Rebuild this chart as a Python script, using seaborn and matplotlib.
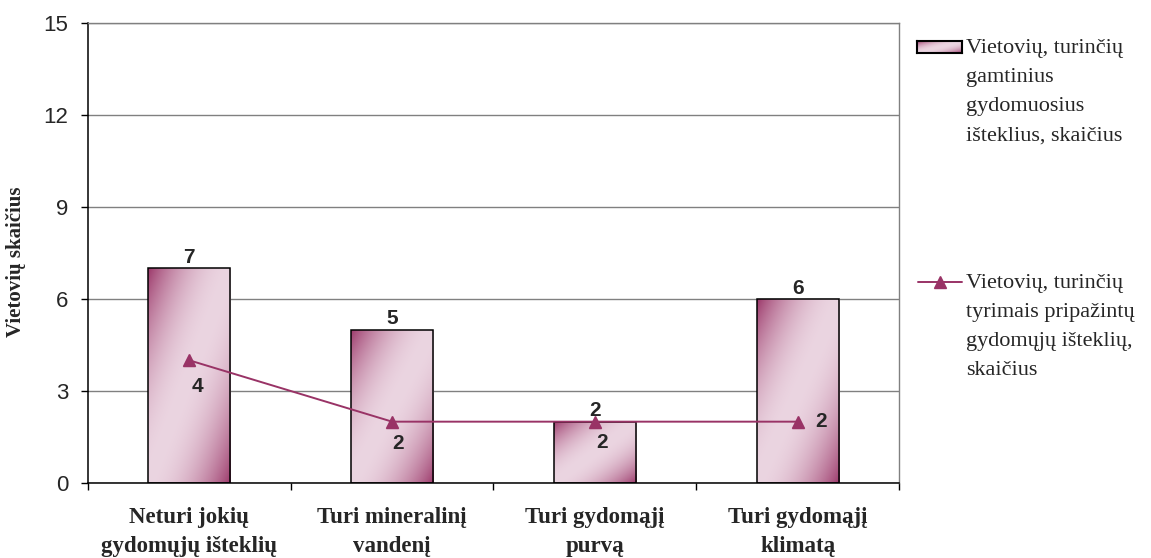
import numpy as np
import matplotlib
matplotlib.use("Agg")
import matplotlib.pyplot as plt
import seaborn as sns
from matplotlib.lines import Line2D

# ------------------ Data ------------------
categories = ["Neturi jokių\ngydomųjų išteklių", "Turi mineralinį\nvandenį",
              "Turi gydomąjį\npurvą", "Turi gydomąjį\nklimatą"]
natural_counts = [7, 5, 2, 6]
recognized_counts = [4, 2, 2, 2]
y_ticks = [0, 3, 6, 9, 12, 15]

bar_legend = "Vietovių, turinčių\ngamtinius\ngydomuosius\ništeklius, skaičius"
line_legend = "Vietovių, turinčių\ntyrimais pripažintų\ngydomųjų išteklių,\nskaičius"
y_label = "Vietovių skaičius"

# label offsets (points) for the line values
line_label_offsets = [(6, -19), (4, -16), (5, -15), (17, 0)]

dark = np.array([153, 51, 102]) / 255
light = np.array([235, 213, 225]) / 255
line_color = "#993366"
serif = ["Liberation Serif", "DejaVu Serif"]
sans = ["Liberation Sans", "DejaVu Sans"]


def gradient(n=200):
    u = np.linspace(0, 1, n)[None, :]
    v = np.linspace(1, 0, n)[:, None]
    t = (u + (1 - v)) / 2
    s = np.sin(np.pi * t) ** 0.8
    return dark + (light - dark) * s[..., None]


# ------------------ Plotting ------------------
sns.set_style("white")
fig = plt.figure(figsize=(11.51, 5.58), dpi=100)
ax = fig.add_axes([88 / 1151, 1 - 483 / 558, 811 / 1151, 460 / 558])

sns.barplot(x=categories, y=natural_counts, width=0.405, color=light,
            edgecolor="black", linewidth=1.1, ax=ax)

# gradient fill for bars
grad = gradient()
for p in ax.patches:
    x0, y0 = p.get_x(), p.get_y()
    w, h = p.get_width(), p.get_height()
    im = ax.imshow(grad, extent=[x0, x0 + w, y0, y0 + h], aspect="auto",
                   zorder=1, interpolation="bilinear")
    im.set_clip_path(p)
    p.set_facecolor("none")
    p.set_zorder(1.5)

sns.pointplot(x=categories, y=recognized_counts, color=line_color, markers="^",
              markersize=9, linewidth=1.4, errorbar=None, ax=ax, zorder=3)

ax.set_xlim(-0.5, 3.5)
ax.set_ylim(0, 15)
ax.set_yticks(y_ticks)
ax.set_axisbelow(True)
ax.yaxis.grid(True, color="#808080", linewidth=1)
ax.xaxis.grid(False)

# bar value labels
ax.bar_label(ax.containers[0], padding=1, fontsize=15, fontweight="bold",
             family=sans)
# line value labels
for i, (val, off) in enumerate(zip(recognized_counts, line_label_offsets)):
    ax.annotate(str(val), (i, val), xytext=off, textcoords="offset points",
                ha="center", va="center", fontsize=15, fontweight="bold",
                family=sans, zorder=4)

# spines and ticks
for side in ["left", "bottom"]:
    ax.spines[side].set_color("black")
    ax.spines[side].set_linewidth(1.1)
for side in ["top", "right"]:
    ax.spines[side].set_color("#808080")
    ax.spines[side].set_linewidth(1)

ax.tick_params(axis="y", direction="out", length=5, width=1, color="black",
               pad=9, labelsize=16, left=True)
for lab in ax.get_yticklabels():
    lab.set_family(sans)

ax.set_xticks([-0.5, 0.5, 1.5, 2.5, 3.5], minor=True)
ax.tick_params(axis="x", which="minor", direction="out", length=5, width=1,
               color="black", bottom=True)
ax.tick_params(axis="x", which="major", length=0, pad=17)
ax.set_xticks(range(len(categories)))
ax.set_xticklabels(categories, fontsize=16.5, fontweight="bold", family=serif,
                   linespacing=1.55)

ax.set_xlabel("")
ax.set_ylabel(y_label, fontsize=15, fontweight="bold", family=serif)
ax.yaxis.set_label_coords((26 - 88) / 811, 0.48)

# ------------------ Legend (drawn by hand) ------------------
lax = fig.add_axes([917 / 1151, 1 - 53 / 558, 45 / 1151, 12 / 558])
lax.imshow(gradient(60), aspect="auto", extent=[0, 1, 0, 1])
lax.set_xticks([])
lax.set_yticks([])
for s in lax.spines.values():
    s.set_color("black")
    s.set_linewidth(1.5)

ly = 1 - 282 / 558
fig.add_artist(Line2D([918 / 1151, 962 / 1151], [ly, ly], color=line_color,
                      linewidth=1.4, transform=fig.transFigure))
fig.add_artist(Line2D([940 / 1151], [ly], color=line_color, marker="^",
                      markersize=9, linestyle="none", transform=fig.transFigure))

fig.text(966 / 1151, 1 - 39 / 558, bar_legend, va="top", ha="left",
         fontsize=16, family=serif, linespacing=1.72)
fig.text(966 / 1151, 1 - 274 / 558, line_legend, va="top", ha="left",
         fontsize=16, family=serif, linespacing=1.72)

plt.savefig("out.png", dpi=100)
